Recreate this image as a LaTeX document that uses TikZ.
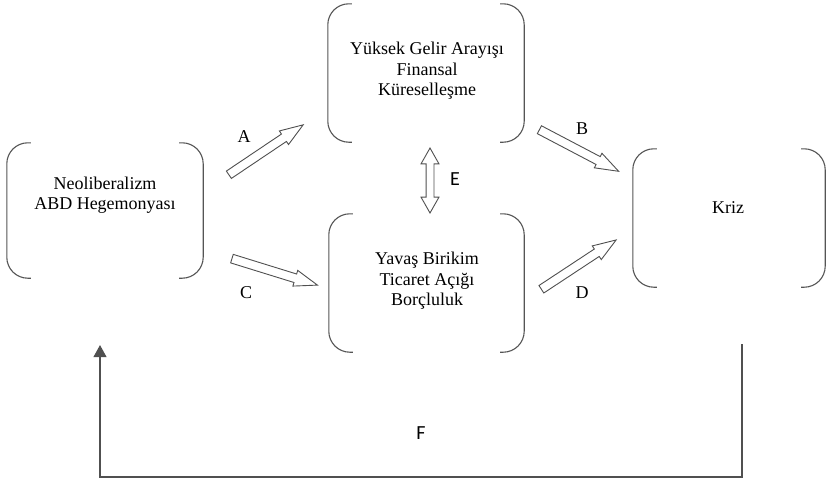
\documentclass[tikz,border=0pt]{standalone}
\usepackage{fontspec}
\setmainfont{Liberation Serif}
\newfontfamily\lblfont{Carlito}
\usetikzlibrary{positioning}
\usetikzlibrary{shapes.arrows}
\usetikzlibrary{arrows.meta}
\definecolor{lgray}{HTML}{555555}
\definecolor{agray}{HTML}{505050}

% bracket pair round a box node
\newcommand{\brackets}[1]{%
	\draw[brk] ([xshift=24pt]#1.north west) -- (#1.north west) -- (#1.south west) -- ([xshift=24pt]#1.south west);
	\draw[brk] ([xshift=-24pt]#1.north east) -- (#1.north east) -- (#1.south east) -- ([xshift=-24pt]#1.south east);
}

\begin{document}
\begin{tikzpicture}[
	x=1pt, y=-1pt,
	box/.style = {rectangle, draw=none, inner sep=0pt},
	brk/.style = {draw=lgray, line width=1.1pt, rounded corners=21pt},
	txt/.style = {align=center, inner sep=0pt, font=\fontsize{18}{20.5}\selectfont},
	lbl/.style = {inner sep=0pt, font=\fontsize{18}{20}\selectfont},
	slbl/.style = {inner sep=0pt, font=\lblfont\fontsize{20}{22}\selectfont},
	blk/.style = {single arrow, draw=agray, line width=0.9pt, fill=white, inner xsep=0pt, inner ysep=4pt,
		single arrow head extend=3.75pt, single arrow tip angle=39, minimum height=89.5pt, anchor=tail},
	dblk/.style = {double arrow, draw=agray, line width=0.9pt, fill=white, inner xsep=0pt, inner ysep=3.5pt,
		double arrow head extend=5pt, double arrow tip angle=59, minimum height=65pt},
	fb/.style = {draw=agray, line width=1.8pt, -{Triangle[width=12.7pt, length=12pt]}}
	]
	\useasboundingbox (0,0) rectangle (826,480);
	
	%Boxes
	\node[box, minimum width=196pt, minimum height=135pt]	(neo)	at	(105, 210.5)	{};
	\node[box, minimum width=196pt, minimum height=138pt]	(fin)	at	(426, 73)		{};
	\node[box, minimum width=195pt, minimum height=138pt]	(bir)	at	(426.5, 283)	{};
	\node[box, minimum width=192pt, minimum height=138pt]	(kriz)	at	(729, 218)		{};
	
	\brackets{neo}
	\brackets{fin}
	\brackets{bir}
	\brackets{kriz}
	
	%Texts
	\node[txt]	(neo-t)		at	(105, 195)	{Neoliberalizm\\ABD Hegemonyası};
	\node[txt]	(fin-t)		at	(427, 71)	{Yüksek Gelir Arayışı\\Finansal\\Küreselleşme};
	\node[txt]	(bir-t)		at	(427, 281)	{Yavaş Birikim\\Ticaret Açığı\\Borçluluk};
	\node[txt]	(kriz-t)	at	(728, 208)	{Kriz};
	
	%Block arrows
	\node[blk, rotate=33.9]		(arr-a)	at	(228.5, 175)	{};
	\node[blk, rotate=-17.2]	(arr-c)	at	(231.5, 258.5)	{};
	\node[blk, rotate=-27.7]	(arr-b)	at	(539, 129.5)	{};
	\node[blk, rotate=33.4]		(arr-d)	at	(541, 289.5)	{};
	\node[dblk, rotate=90]		(arr-e)	at	(430, 180.5)	{};
	
	%Labels
	\node[lbl]	(lbl-a)	at	(244, 137)	{A};
	\node[lbl]	(lbl-b)	at	(582, 129)	{B};
	\node[lbl]	(lbl-c)	at	(246, 293)	{C};
	\node[lbl]	(lbl-d)	at	(582, 293)	{D};
	\node[slbl]	(lbl-e)	at	(455, 179)	{E};
	\node[slbl]	(lbl-f)	at	(421, 433)	{F};
	
	%Feedback line
	\coordinate (f-start)	at	(742, 344);
	\coordinate (f-corner)	at	(100, 477);
	\coordinate (f-end)		at	(100, 345);
	\draw[fb] (f-start) |- (f-corner) -- (f-end);
	
\end{tikzpicture}
\end{document}
